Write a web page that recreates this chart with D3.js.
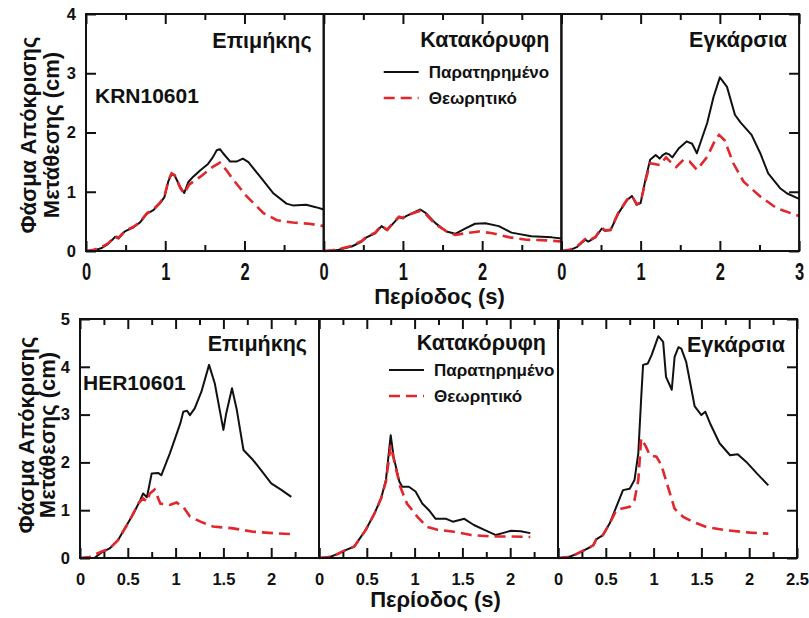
<!DOCTYPE html>
<html>
<head>
<meta charset="utf-8">
<script src="https://cdn.jsdelivr.net/npm/d3@7"></script>
<style>
  body { margin: 0; background: #fff; }
  svg { display: block; font-family: "Liberation Sans", Arial, sans-serif; }
</style>
</head>
<body>
<div id="chart"></div>
<script>
// spectra: [period (s), displacement (cm)]
const krnEpiObs = [[0,0],[0.1,0.01],[0.2,0.05],[0.28,0.12],[0.37,0.24],[0.41,0.21],[0.49,0.33],[0.6,0.40],[0.68,0.48],[0.77,0.63],[0.85,0.69],[0.93,0.8],[0.99,0.91],[1.04,1.18],[1.08,1.30],[1.12,1.27],[1.19,1.08],[1.24,0.98],[1.29,1.16],[1.35,1.25],[1.44,1.36],[1.54,1.47],[1.6,1.58],[1.65,1.70],[1.69,1.72],[1.73,1.65],[1.82,1.51],[1.9,1.51],[1.98,1.56],[2.05,1.5],[2.2,1.25],[2.36,0.98],[2.53,0.80],[2.61,0.77],[2.78,0.78],[2.9,0.74],[3.0,0.70]];
const krnEpiThe = [[0,0],[0.1,0.02],[0.2,0.07],[0.28,0.13],[0.37,0.25],[0.41,0.22],[0.49,0.34],[0.6,0.41],[0.68,0.49],[0.77,0.64],[0.85,0.70],[0.93,0.81],[0.99,0.92],[1.04,1.19],[1.08,1.31],[1.12,1.28],[1.19,1.06],[1.24,0.97],[1.3,1.12],[1.44,1.25],[1.6,1.42],[1.69,1.49],[1.78,1.35],[1.86,1.2],[2.03,0.92],[2.24,0.64],[2.41,0.52],[2.61,0.48],[2.82,0.46],[3.0,0.42]];
const krnVerObs = [[0,0],[0.1,0.0],[0.19,0.02],[0.36,0.08],[0.48,0.16],[0.54,0.23],[0.65,0.30],[0.73,0.42],[0.8,0.35],[0.88,0.47],[0.95,0.57],[1.0,0.55],[1.04,0.59],[1.22,0.70],[1.29,0.64],[1.41,0.47],[1.55,0.33],[1.66,0.29],[1.79,0.38],[1.91,0.46],[2.04,0.47],[2.21,0.42],[2.37,0.31],[2.62,0.25],[2.88,0.23],[3.0,0.21]];
const krnVerThe = [[0,0],[0.1,0.01],[0.19,0.03],[0.36,0.09],[0.48,0.17],[0.54,0.24],[0.65,0.31],[0.73,0.43],[0.8,0.36],[0.88,0.48],[0.95,0.58],[1.0,0.56],[1.04,0.60],[1.22,0.68],[1.29,0.62],[1.41,0.45],[1.55,0.33],[1.66,0.27],[1.79,0.30],[1.96,0.33],[2.13,0.30],[2.35,0.23],[2.56,0.19],[2.81,0.18],[3.0,0.16]];
const krnTraObs = [[0,0],[0.1,0.01],[0.2,0.07],[0.30,0.19],[0.34,0.16],[0.43,0.23],[0.51,0.38],[0.55,0.34],[0.62,0.35],[0.72,0.64],[0.83,0.86],[0.89,0.93],[0.95,0.78],[1.0,0.81],[1.06,1.20],[1.12,1.54],[1.19,1.62],[1.24,1.56],[1.28,1.62],[1.32,1.65],[1.36,1.63],[1.40,1.58],[1.48,1.73],[1.58,1.85],[1.65,1.81],[1.71,1.65],[1.75,1.81],[1.84,2.16],[1.92,2.6],[2.0,2.93],[2.09,2.77],[2.19,2.30],[2.26,2.17],[2.4,1.96],[2.51,1.65],[2.61,1.31],[2.76,1.06],[2.85,0.97],[3.0,0.88]];
const krnTraThe = [[0,0],[0.1,0.02],[0.2,0.08],[0.30,0.20],[0.34,0.17],[0.43,0.24],[0.51,0.39],[0.55,0.35],[0.62,0.36],[0.72,0.65],[0.83,0.87],[0.89,0.93],[0.95,0.79],[1.0,0.82],[1.06,1.18],[1.12,1.48],[1.24,1.45],[1.32,1.58],[1.38,1.50],[1.45,1.42],[1.54,1.54],[1.62,1.51],[1.71,1.37],[1.84,1.59],[1.94,1.87],[1.99,1.96],[2.06,1.87],[2.17,1.48],[2.3,1.17],[2.51,0.92],[2.72,0.72],[3.0,0.59]];

const herEpiObs = [[0,0],[0.15,0.0],[0.23,0.12],[0.31,0.2],[0.40,0.38],[0.47,0.62],[0.56,0.93],[0.63,1.21],[0.66,1.35],[0.70,1.27],[0.75,1.77],[0.82,1.78],[0.85,1.73],[0.94,2.19],[1.05,2.82],[1.08,3.06],[1.12,3.08],[1.15,2.99],[1.20,3.13],[1.27,3.48],[1.35,4.04],[1.41,3.65],[1.50,2.68],[1.53,3.03],[1.59,3.55],[1.64,3.10],[1.71,2.26],[1.81,2.05],[1.92,1.77],[2.0,1.56],[2.11,1.42],[2.21,1.28]];
const herEpiThe = [[0,0],[0.1,0.02],[0.21,0.12],[0.31,0.2],[0.40,0.38],[0.52,0.79],[0.61,1.14],[0.66,1.25],[0.70,1.18],[0.73,1.35],[0.78,1.43],[0.84,1.14],[0.94,1.11],[1.01,1.16],[1.08,1.07],[1.15,0.87],[1.26,0.76],[1.39,0.66],[1.60,0.62],[1.81,0.55],[2.02,0.52],[2.21,0.50]];
const herVerObs = [[0,0],[0.1,0.01],[0.19,0.08],[0.26,0.15],[0.37,0.24],[0.42,0.39],[0.49,0.59],[0.58,0.93],[0.65,1.25],[0.70,1.63],[0.75,2.57],[0.78,2.12],[0.84,1.60],[0.87,1.49],[0.94,1.49],[1.01,1.39],[1.08,1.14],[1.15,1.0],[1.22,0.82],[1.33,0.82],[1.40,0.76],[1.52,0.82],[1.62,0.69],[1.73,0.59],[1.85,0.48],[1.92,0.52],[2.01,0.57],[2.11,0.56],[2.21,0.52]];
const herVerThe = [[0,0],[0.1,0.02],[0.19,0.08],[0.26,0.15],[0.37,0.24],[0.42,0.39],[0.49,0.59],[0.58,0.93],[0.65,1.25],[0.70,1.6],[0.75,2.35],[0.80,1.91],[0.85,1.49],[0.92,1.14],[1.03,0.86],[1.13,0.65],[1.24,0.59],[1.41,0.55],[1.59,0.48],[1.80,0.45],[2.01,0.45],[2.21,0.44]];
const herTraObs = [[0,0],[0.1,0.01],[0.19,0.08],[0.26,0.15],[0.33,0.22],[0.37,0.27],[0.40,0.39],[0.47,0.48],[0.54,0.72],[0.61,1.07],[0.68,1.42],[0.75,1.45],[0.80,1.63],[0.84,2.19],[0.87,3.34],[0.89,4.04],[0.94,4.07],[0.98,4.25],[1.05,4.64],[1.10,4.52],[1.13,3.79],[1.19,3.52],[1.22,4.21],[1.26,4.41],[1.29,4.38],[1.34,4.11],[1.43,3.17],[1.50,2.99],[1.54,3.06],[1.59,2.82],[1.69,2.40],[1.80,2.15],[1.88,2.17],[1.97,2.01],[2.08,1.77],[2.20,1.52]];
const herTraThe = [[0,0],[0.1,0.02],[0.19,0.08],[0.26,0.15],[0.33,0.22],[0.37,0.27],[0.40,0.39],[0.47,0.48],[0.54,0.72],[0.61,1.0],[0.66,1.03],[0.75,1.07],[0.80,1.21],[0.84,1.63],[0.87,2.50],[0.92,2.33],[0.96,2.15],[1.03,2.12],[1.08,1.95],[1.15,1.49],[1.22,1.03],[1.31,0.86],[1.41,0.76],[1.55,0.65],[1.76,0.58],[2.01,0.53],[2.20,0.51]];

const components = ["Επιμήκης", "Κατακόρυφη", "Εγκάρσια"];
const stations = ["KRN10601", "HER10601"];
const legendLabels = ["Παρατηρημένο", "Θεωρητικό"];
const yTitle = ["Φάσμα Απόκρισης", "Μετάθεσης (cm)"];
const xTitle = "Περίοδος (s)";

const topXMajor = [0, 1, 2, 3], topXMinor = [0.5, 1.5, 2.5], topY = [0, 1, 2, 3, 4];
const botXMajor = [0, 0.5, 1, 1.5, 2, 2.5], botXMinor = [0.25, 0.75, 1.25, 1.75, 2.25], botY = [0, 1, 2, 3, 4, 5];

const RED = "#e3262b";

// layout of the two rows
const rows = [
  { left: 86, top: 14, pw: 237.7, ph: 237, xMax: 3, yMax: 4, xMajor: topXMajor, xMinor: topXMinor, yTicks: topY,
    series: [[krnEpiObs, krnEpiThe], [krnVerObs, krnVerThe], [krnTraObs, krnTraThe]],
    station: stations[0], stretch: 1.45, titleY: [48, 47, 47], legendY: 72, xTitleY: 304,
    yTitleC: 135, yTitleX: [36, 59] },
  { left: 80, top: 319, pw: 239, ph: 239, xMax: 2.5, yMax: 5, xMajor: botXMajor, xMinor: botXMinor, yTicks: botY,
    series: [[herEpiObs, herEpiThe], [herVerObs, herVerThe], [herTraObs, herTraThe]],
    station: stations[1], stretch: 1, titleY: [351, 350, 352], legendY: 370, xTitleY: 607,
    yTitleC: 435, yTitleX: [34, 55] }
];

const svg = d3.select("#chart").append("svg")
  .attr("width", 809).attr("height", 618);

rows.forEach(function(r, ri) {
  const x = d3.scaleLinear().domain([0, r.xMax]).range([0, r.pw]);
  const y = d3.scaleLinear().domain([0, r.yMax]).range([r.ph, 0]);
  const line = d3.line().x(d => x(d[0])).y(d => y(d[1]));

  for (let p = 0; p < 3; p++) {
    const g = svg.append("g")
      .attr("transform", "translate(" + (r.left + p * r.pw) + "," + r.top + ")");
    const last = p === 2;

    // curves
    g.append("path").datum(r.series[p][0])
      .attr("fill", "none").attr("stroke", "#111").attr("stroke-width", 2)
      .attr("stroke-linejoin", "round").attr("d", line);
    g.append("path").datum(r.series[p][1])
      .attr("fill", "none").attr("stroke", RED).attr("stroke-width", 2.6)
      .attr("stroke-dasharray", "11,6").attr("d", line);

    // x axis, bottom: major with labels, minor without
    const fmt = d => (d === r.xMax && !last) ? "" : String(d);
    const xb = g.append("g").attr("transform", "translate(0," + r.ph + ")")
      .call(d3.axisBottom(x).tickValues(r.xMajor).tickSize(-10).tickPadding(10).tickFormat(fmt));
    g.append("g").attr("transform", "translate(0," + r.ph + ")")
      .call(d3.axisBottom(x).tickValues(r.xMinor).tickSize(-6).tickFormat(""));
    g.append("g").call(d3.axisTop(x).tickValues(r.xMajor).tickSize(-10).tickFormat(""));
    g.append("g").call(d3.axisTop(x).tickValues(r.xMinor).tickSize(-6).tickFormat(""));

    xb.selectAll("text")
      .attr("y", 0).attr("dy", 0)
      .attr("transform", "translate(0," + (ri === 0 ? 29 : 27) + ") scale(1," + r.stretch + ")");

    if (p === 0) {
      g.append("g").call(d3.axisLeft(y).tickValues(r.yTicks).tickSize(-10).tickPadding(10).tickFormat(d3.format("d")));
    }
    if (last) {
      g.append("g").attr("transform", "translate(" + r.pw + ",0)")
        .call(d3.axisRight(y).tickValues(r.yTicks).tickSize(-10).tickFormat(""));
    }

    g.selectAll(".domain").remove();
    g.selectAll(".tick line").attr("stroke", "#111").attr("stroke-width", 2);
    g.selectAll(".tick text").attr("fill", "#111").attr("font-size", 16.5).attr("font-weight", "bold")
      .attr("font-family", "'Liberation Sans', Arial, sans-serif");

    g.append("rect").attr("width", r.pw).attr("height", r.ph)
      .attr("fill", "none").attr("stroke", "#111").attr("stroke-width", 2);

    // component title
    g.append("text").attr("x", r.pw - 12).attr("y", r.titleY[p] - r.top)
      .attr("text-anchor", "end").attr("font-size", 21.5).attr("font-weight", "bold")
      .attr("fill", "#111").text(components[p]);

    if (p === 0) {
      g.append("text").attr("x", ri === 0 ? 9 : 3).attr("y", ri === 0 ? 89 : 71)
        .attr("font-size", 21).attr("font-weight", "bold").attr("fill", "#111").text(r.station);
    }

    if (p === 1) {
      const ly = r.legendY - r.top;
      const lx = ri === 0 ? 60 : 70;
      g.append("line").attr("x1", lx).attr("x2", lx + 35).attr("y1", ly).attr("y2", ly)
        .attr("stroke", "#111").attr("stroke-width", 2);
      g.append("line").attr("x1", lx).attr("x2", lx + 35).attr("y1", ly + 26).attr("y2", ly + 26)
        .attr("stroke", RED).attr("stroke-width", 2.6).attr("stroke-dasharray", "11,6");
      g.selectAll(".lg").data(legendLabels).enter().append("text")
        .attr("x", lx + 45).attr("y", (d, i) => ly + 6 + i * 26)
        .attr("font-size", 17).attr("font-weight", "bold").attr("fill", "#111").text(d => d);
    }
  }

  // shared axis titles
  svg.append("text").attr("x", r.left + 1.5 * r.pw - 3).attr("y", r.xTitleY)
    .attr("text-anchor", "middle").attr("font-size", 22).attr("font-weight", "bold")
    .attr("fill", "#111").text(xTitle);
  yTitle.forEach(function(t, i) {
    svg.append("text")
      .attr("transform", "translate(" + r.yTitleX[i] + "," + r.yTitleC + ") rotate(-90)")
      .attr("text-anchor", "middle").attr("font-size", 22).attr("font-weight", "bold")
      .attr("fill", "#111").text(t);
  });
});
</script>
</body>
</html>
